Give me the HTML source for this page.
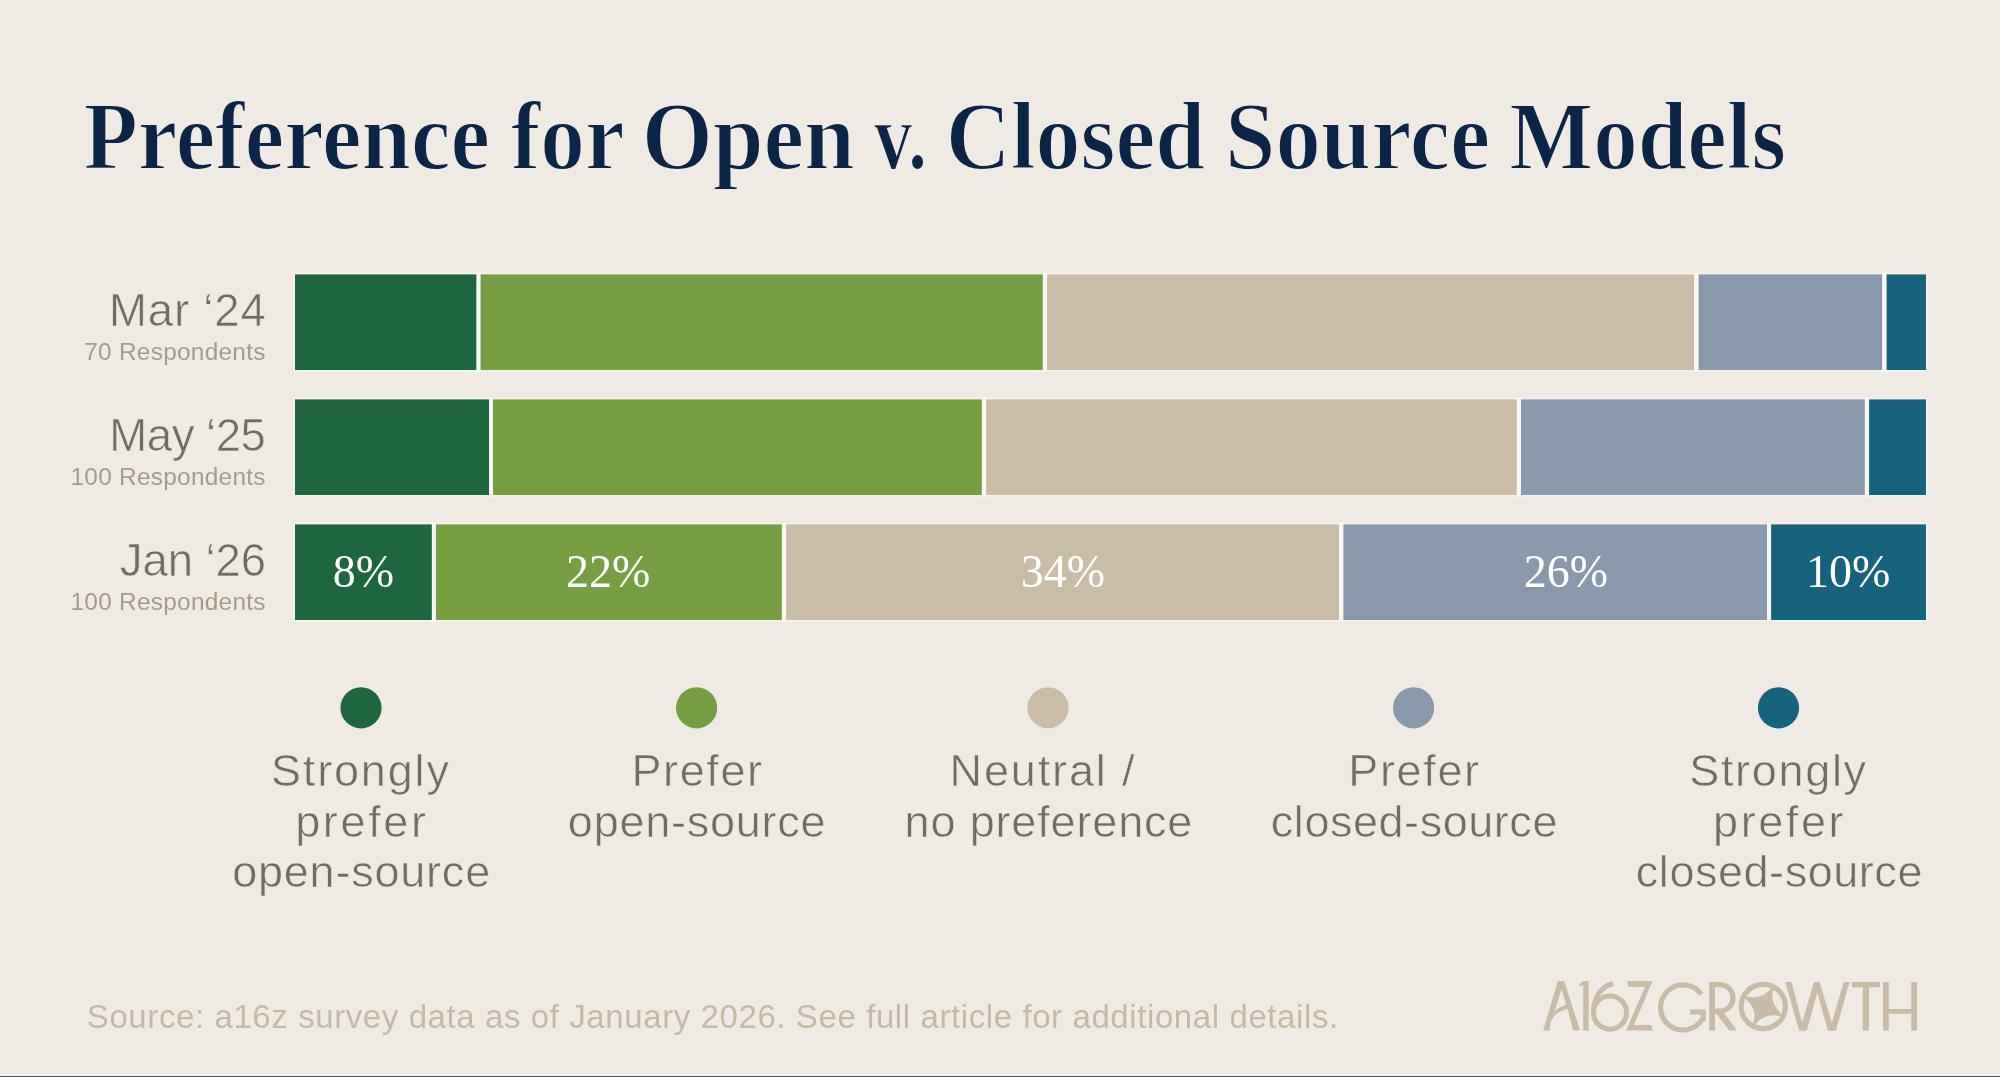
<!DOCTYPE html>
<html><head><meta charset="utf-8"><style>
html,body{margin:0;padding:0;background:#efebe4;overflow:hidden;}
svg{display:block;will-change:transform;}
.title{font-family:"Liberation Serif",serif;font-weight:bold;font-size:98px;fill:#0c2446;stroke:#efebe4;stroke-width:1.8px;}
.rl{font-family:"Liberation Sans",sans-serif;font-size:45.5px;fill:#716d66;stroke:#efebe4;stroke-width:0.6px;}
.rs{font-family:"Liberation Sans",sans-serif;font-size:24.4px;fill:#a69b88;}
.pct{font-family:"Liberation Serif",serif;font-size:46px;fill:#ffffff;}
.leg{font-family:"Liberation Sans",sans-serif;font-size:45px;fill:#716d66;stroke:#efebe4;stroke-width:0.6px;}
.foot{font-family:"Liberation Sans",sans-serif;font-size:33px;fill:#c6baa5;}
</style></head><body>
<svg width="2000" height="1077" viewBox="0 0 2000 1077">
<rect x="0" y="0" width="2000" height="1077" fill="#efebe4"/>
<rect x="293.2" y="272.60" width="1634.60" height="99.20" fill="#f5f2eb"/>
<rect x="295" y="274.4" width="181.60" height="95.6" fill="#1e6640"/>
<rect x="476.6" y="272.60" width="4.00" height="99.20" fill="#f9f7f1"/>
<rect x="480.6" y="274.4" width="562.30" height="95.6" fill="#789e43"/>
<rect x="1042.9" y="272.60" width="4.20" height="99.20" fill="#f9f7f1"/>
<rect x="1047.1" y="274.4" width="647.10" height="95.6" fill="#c9bda8"/>
<rect x="1694.2" y="272.60" width="4.40" height="99.20" fill="#f9f7f1"/>
<rect x="1698.6" y="274.4" width="183.60" height="95.6" fill="#8a98ab"/>
<rect x="1882.2" y="272.60" width="4.40" height="99.20" fill="#f9f7f1"/>
<rect x="1886.6" y="274.4" width="39.40" height="95.6" fill="#17627c"/>
<rect x="293.2" y="397.60" width="1634.60" height="99.20" fill="#f5f2eb"/>
<rect x="295" y="399.4" width="194.10" height="95.6" fill="#1e6640"/>
<rect x="489.1" y="397.60" width="3.90" height="99.20" fill="#f9f7f1"/>
<rect x="493" y="399.4" width="488.90" height="95.6" fill="#789e43"/>
<rect x="981.9" y="397.60" width="4.20" height="99.20" fill="#f9f7f1"/>
<rect x="986.1" y="399.4" width="530.80" height="95.6" fill="#c9bda8"/>
<rect x="1516.9" y="397.60" width="4.10" height="99.20" fill="#f9f7f1"/>
<rect x="1521" y="399.4" width="343.90" height="95.6" fill="#8a98ab"/>
<rect x="1864.9" y="397.60" width="4.20" height="99.20" fill="#f9f7f1"/>
<rect x="1869.1" y="399.4" width="56.90" height="95.6" fill="#17627c"/>
<rect x="293.2" y="522.60" width="1634.60" height="99.20" fill="#f5f2eb"/>
<rect x="295" y="524.4" width="136.90" height="95.6" fill="#1e6640"/>
<rect x="431.9" y="522.60" width="4.00" height="99.20" fill="#f9f7f1"/>
<rect x="435.9" y="524.4" width="346.00" height="95.6" fill="#789e43"/>
<rect x="781.9" y="522.60" width="4.20" height="99.20" fill="#f9f7f1"/>
<rect x="786.1" y="524.4" width="553.10" height="95.6" fill="#c9bda8"/>
<rect x="1339.2" y="522.60" width="4.20" height="99.20" fill="#f9f7f1"/>
<rect x="1343.4" y="524.4" width="423.60" height="95.6" fill="#8a98ab"/>
<rect x="1767" y="522.60" width="4.10" height="99.20" fill="#f9f7f1"/>
<rect x="1771.1" y="524.4" width="154.90" height="95.6" fill="#17627c"/>
<circle cx="361" cy="707.8" r="20.6" fill="#1e6640"/>
<circle cx="696.6" cy="707.8" r="20.6" fill="#789e43"/>
<circle cx="1048" cy="707.8" r="20.6" fill="#c9bda8"/>
<circle cx="1413.6" cy="707.8" r="20.6" fill="#8a98ab"/>
<circle cx="1778.5" cy="707.8" r="20.6" fill="#17627c"/>
<text x="83.45" y="168.9" class="title" textLength="406.55" lengthAdjust="spacingAndGlyphs">Preference</text>
<text x="510.64" y="168.9" class="title" textLength="114.02" lengthAdjust="spacingAndGlyphs">for</text>
<text x="641.63" y="168.9" class="title" textLength="213.32" lengthAdjust="spacingAndGlyphs">Open</text>
<text x="874.03" y="168.9" class="title" textLength="53.15" lengthAdjust="spacingAndGlyphs">v.</text>
<text x="945.84" y="168.9" class="title" textLength="259.32" lengthAdjust="spacingAndGlyphs">Closed</text>
<text x="1225.07" y="168.9" class="title" textLength="265.18" lengthAdjust="spacingAndGlyphs">Source</text>
<text x="1509.15" y="168.9" class="title" textLength="276.94" lengthAdjust="spacingAndGlyphs">Models</text>
<text x="109.11" y="326" class="rl" textLength="156.58" lengthAdjust="spacing">Mar ‘24</text>
<text x="84.18" y="359.8" class="rs" textLength="181.27" lengthAdjust="spacing">70 Respondents</text>
<text x="109.34" y="451" class="rl" textLength="156.57" lengthAdjust="spacing">May ‘25</text>
<text x="70.54" y="484.8" class="rs" textLength="194.91" lengthAdjust="spacing">100 Respondents</text>
<text x="119.75" y="576" class="rl" textLength="146.29" lengthAdjust="spacing">Jan ‘26</text>
<text x="70.54" y="609.8" class="rs" textLength="194.91" lengthAdjust="spacing">100 Respondents</text>
<text x="363.40" y="587.2" class="pct" text-anchor="middle">8%</text>
<text x="608.20" y="587.2" class="pct" text-anchor="middle">22%</text>
<text x="1063.00" y="587.2" class="pct" text-anchor="middle">34%</text>
<text x="1566.00" y="587.2" class="pct" text-anchor="middle">26%</text>
<text x="1848.20" y="587.2" class="pct" text-anchor="middle">10%</text>
<text x="270.97" y="785.5" class="leg" textLength="177.92" lengthAdjust="spacing">Strongly</text>
<text x="295.20" y="836.5" class="leg" textLength="130.79" lengthAdjust="spacing">prefer</text>
<text x="232.13" y="887.3" class="leg" textLength="258.06" lengthAdjust="spacing">open-source</text>
<text x="631.39" y="785.5" class="leg" textLength="130.68" lengthAdjust="spacing">Prefer</text>
<text x="567.84" y="836.5" class="leg" textLength="257.81" lengthAdjust="spacing">open-source</text>
<text x="949.60" y="785.5" class="leg" textLength="184.88" lengthAdjust="spacing">Neutral /</text>
<text x="904.53" y="836.5" class="leg" textLength="287.87" lengthAdjust="spacing">no preference</text>
<text x="1348.26" y="785.5" class="leg" textLength="130.86" lengthAdjust="spacing">Prefer</text>
<text x="1270.83" y="836.5" class="leg" textLength="286.58" lengthAdjust="spacing">closed-source</text>
<text x="1689.18" y="785.5" class="leg" textLength="176.94" lengthAdjust="spacing">Strongly</text>
<text x="1713.10" y="836.5" class="leg" textLength="130.43" lengthAdjust="spacing">prefer</text>
<text x="1635.83" y="887.3" class="leg" textLength="286.58" lengthAdjust="spacing">closed-source</text>
<text x="86.80" y="1027.9" class="foot" textLength="1251.38" lengthAdjust="spacing">Source: a16z survey data as of January 2026. See full article for additional details.</text>
<g fill="#c8bca7">
<path d="M1557.8,981 L1564.2,981 L1580.1,1030.6 L1573.1,1030.6 L1567.6,1008.9 C1557,1011 1549,1018 1550,1030.6 L1543.1,1030.6 Z M1561.4,989.4 L1554.8,1011.1 C1558,1008 1562,1006 1566.2,1004.7 Z" fill-rule="evenodd"/>
<path d="M1579,984.4 L1583.5,981 L1588.7,981 L1588.7,1029 L1589.5,1030.6 L1582.4,1030.6 L1583.2,1029 L1583.2,985 L1580.5,986 Z"/>
<circle cx="1610" cy="1012.6" r="16.6" fill="none" stroke="#c8bca7" stroke-width="5"/>
<path d="M1593.6,1012 C1593.5,998 1600,987 1613,983.5" fill="none" stroke="#c8bca7" stroke-width="5"/>
<path d="M1627,981 L1652.5,981 L1634,1025 L1651,1025 L1653,1030.5 L1626,1030.5 L1645,987 L1628.5,987 Z"/>
<path d="M1701.3,994.2 A22.5,22.5 0 1 0 1702.6,1018.6" fill="none" stroke="#c8bca7" stroke-width="5.1"/>
<path d="M1690.1,1009.4 L1705.7,1009.4 L1705.7,1021 L1700.6,1021 L1700.6,1014.4 L1690.1,1014.4 Z"/>
<path d="M1709.2,982 L1719.75,982 A15.85,15.85 0 0 1 1719.75,1013.7 L1715,1013.7 L1715,1030.4 L1709.2,1030.4 Z M1715,987.2 L1719.75,987.2 A10.65,10.65 0 0 1 1719.75,1008.5 L1715,1008.5 Z" fill-rule="evenodd"/>
<path d="M1714.6,1009.4 L1724.6,1013.6 L1737,1030.6 L1729.1,1030.6 L1714.6,1011 Z"/>
<circle cx="1763.25" cy="1006.5" r="22.15" fill="none" stroke="#c8bca7" stroke-width="5.2"/>
<path d="M1774.53,987.82 Q1767.40,1001.50 1783.04,1015.30 L1782.14,1017.09 Q1766.20,1010.50 1753.83,1026.03 L1752.07,1025.08 Q1759.80,1010.50 1743.76,997.24 L1744.71,995.48 Q1760.40,1001.90 1772.78,986.87 L1774.53,987.82 Z"/>
<path d="M1785.1,982.1 L1791.6,982.1 L1802.1,1022.4 L1814.1,982.1 L1819.5,982.1 L1831.8,1022.4 L1843.8,982.1 L1849.6,982.1 L1835.8,1030.7 L1827.9,1030.7 L1817.3,992.3 L1806.8,1030.7 L1799.2,1030.7 Z"/>
<path d="M1851.8,982.1 L1880,982.1 L1880,987.2 L1869,987.2 L1869,1030.4 L1862.7,1030.4 L1862.7,987.2 L1851.8,987.2 Z"/>
<path d="M1883,982.1 L1888.8,982.1 L1888.8,1009.0 L1911.3,1009.0 L1911.3,982.1 L1917.1,982.1 L1917.1,1030.6 L1911.3,1030.6 L1911.3,1013.8 L1888.8,1013.8 L1888.8,1030.6 L1883,1030.6 Z"/>
</g>
<rect x="0" y="1075" width="2000" height="1" fill="#f8f5ec"/>
<rect x="0" y="1076" width="2000" height="1" fill="#3b5a65"/>
</svg>
</body></html>
